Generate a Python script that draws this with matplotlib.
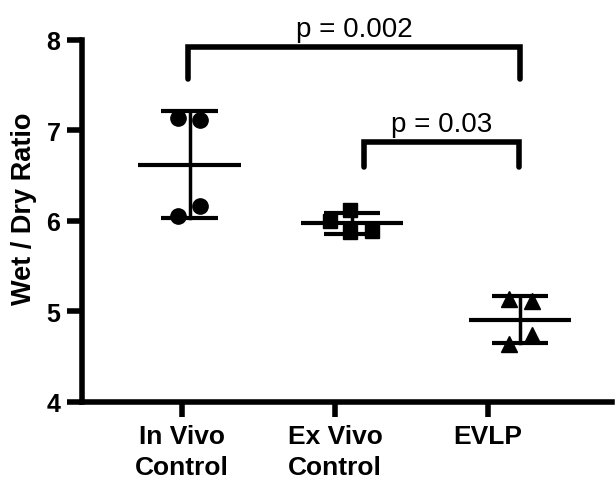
import matplotlib
matplotlib.use("Agg")
import matplotlib.pyplot as plt
import numpy as np

plt.rcParams["font.family"] = ["Liberation Sans", "DejaVu Sans"]

# data
groups = ["In Vivo\nControl", "Ex Vivo\nControl", "EVLP"]
in_vivo = [7.14, 7.12, 6.17, 6.06]
ex_vivo = [6.12, 6.00, 5.88, 5.89]
evlp = [5.14, 5.12, 4.74, 4.64]
markers = ["o", "s", "^"]
p_labels = ["p = 0.002", "p = 0.03"]

# column placement (GraphPad draws the scatter a bit right of the tick)
centers = [0.05, 0.11, 0.21]
jitter = [[-0.075, 0.07, 0.07, -0.075],
          [-0.01, -0.14, -0.01, 0.13],
          [-0.07, 0.08, 0.08, -0.07]]

fig = plt.figure(figsize=(6.15, 4.81), dpi=100)
ax = fig.add_axes([0.1333, 0.1622, 0.8617, 0.7526])

for i, vals in enumerate([in_vivo, ex_vivo, evlp]):
    vals = np.array(vals)
    xc = i + centers[i]
    ax.plot(xc + np.array(jitter[i]), vals, linestyle="none", marker=markers[i],
            markersize=11 if markers[i] != "s" else 9.5, color="black", zorder=3)
    m, sd = vals.mean(), vals.std(ddof=1)
    ax.plot([xc - 0.335, xc + 0.335], [m, m], color="black", lw=3, solid_capstyle="butt")
    ax.plot([xc, xc], [m - sd, m + sd], color="black", lw=2.5)
    for y in (m - sd, m + sd):
        ax.plot([xc - 0.185, xc + 0.185], [y, y], color="black", lw=3, solid_capstyle="butt")

# significance brackets
def bracket(x1, x2, top, bottom, label):
    ax.plot([x1, x1, x2, x2], [bottom, top, top, bottom], color="black", lw=4,
            solid_joinstyle="miter", solid_capstyle="round", clip_on=False)
    ax.text((x1 + x2) / 2, top + 0.055, label, ha="center", va="bottom",
            fontsize=20, clip_on=False)

bracket(0.04, 2.21, 7.92, 7.57, p_labels[0])
bracket(1.19, 2.2, 6.87, 6.60, p_labels[1])

ax.set_xlim(-0.654, 2.81)
ax.set_ylim(4, 8)
ax.set_yticks([4, 5, 6, 7, 8])
ax.set_xticks(range(len(groups)))
ax.set_xticklabels(groups, fontsize=19, fontweight="bold", linespacing=1.38)
for lbl in ax.get_yticklabels():
    lbl.set_fontsize(18)
    lbl.set_fontweight("bold")
ax.set_ylabel("Wet / Dry Ratio", fontsize=19.5, fontweight="bold")
ax.yaxis.set_label_coords(-0.084, 0.536)

ax.spines["top"].set_visible(False)
ax.spines["right"].set_visible(False)
for s in ("left", "bottom"):
    ax.spines[s].set_linewidth(4)
ax.tick_params(axis="both", width=4, length=11, pad=4.5)

fig.savefig("out.png", dpi=100)
